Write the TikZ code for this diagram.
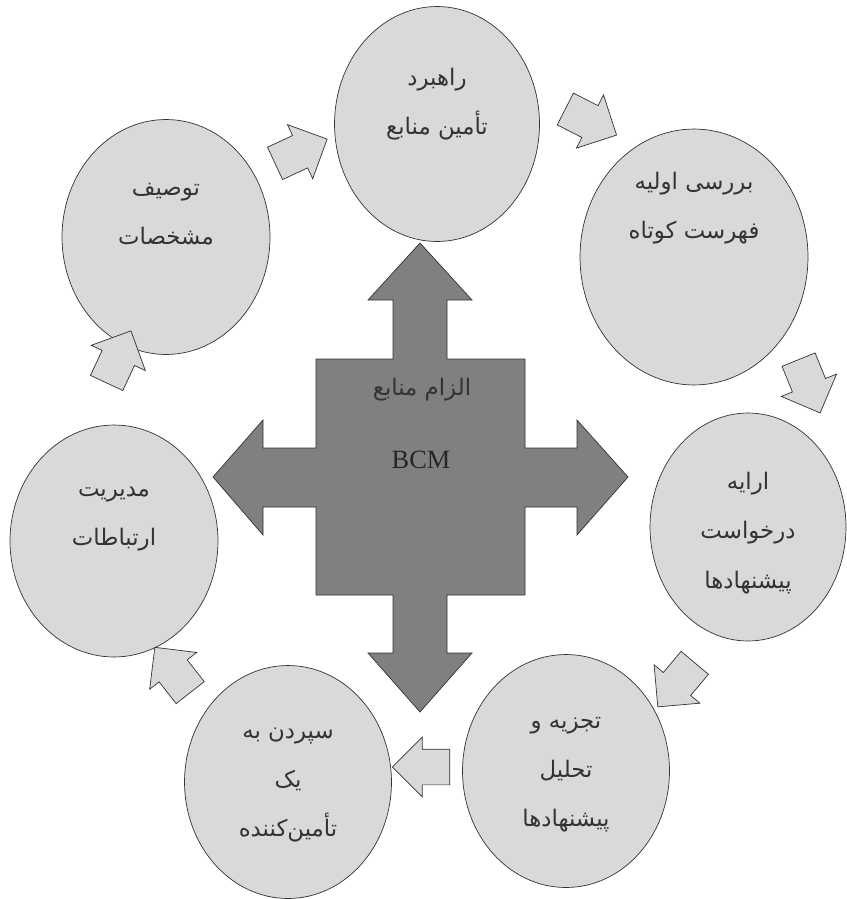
\documentclass[tikz,border=0pt]{standalone}
\usepackage{fontspec}
\setmainfont{Liberation Serif}
\newfontfamily\arabicfont[Script=Arabic]{DejaVu Sans}
\TeXXeTstate=1
\usetikzlibrary{shapes.geometric,shapes.arrows}

\tikzset{
  bubble/.style={ellipse, draw=black!80, fill=gray!30, inner sep=0pt},
  bubbletext/.style={font=\arabicfont\fontsize{13}{28}\selectfont, text=black!80, align=center},
  flow/.style={single arrow, draw=black!80, fill=gray!30, inner xsep=0pt, inner ysep=0.35cm,
    minimum height=1.15cm, single arrow head extend=0.24cm},
  hub/.style={draw=black!80, fill=gray}
}

\begin{document}
\begin{tikzpicture}[x=0.02cm,y=-0.02cm]
\useasboundingbox (0,0) rectangle (846,899);

% central arrow
\draw[hub] (420,243) -- (472,300) -- (447,300) -- (447,359) -- (525,359) -- (525,448)
  -- (577,448) -- (577,420) -- (628,477) -- (577,535) -- (577,507) -- (525,507)
  -- (525,595) -- (447,595) -- (447,653) -- (472,653) -- (420,712) -- (368,653)
  -- (393,653) -- (393,595) -- (316,595) -- (316,507) -- (263,507) -- (263,535)
  -- (213,477) -- (263,420) -- (263,448) -- (316,448) -- (316,359) -- (393,359)
  -- (393,300) -- (368,300) -- cycle;
\node[bubbletext] (hubtop) at (422,390) {\beginR الزام منابع\endR};
\node[font=\fontsize{15}{18}\selectfont, text=black!85] (hubbcm) at (421,460) {BCM};

% ellipses
\node[bubble, minimum width=4.1cm, minimum height=4.7cm] (rahbord) at (437,124) {};
\node[bubble, minimum width=4.56cm, minimum height=5.12cm] (barresi) at (694,257) {};
\node[bubble, minimum width=3.92cm, minimum height=4.56cm] (eraee) at (748,527) {};
\node[bubble, minimum width=4.14cm, minimum height=4.66cm] (tajzie) at (566,771) {};
\node[bubble, minimum width=4.14cm, minimum height=4.66cm] (sepordan) at (288,782) {};
\node[bubble, minimum width=4.16cm, minimum height=4.64cm] (modiriat) at (114,541) {};
\node[bubble, minimum width=4.16cm, minimum height=4.7cm] (tosif) at (166,237) {};

\node[bubbletext] (rahbordtext) at (437,104) {\beginR راهبرد\endR\\ \beginR تأمین منابع\endR};
\node[bubbletext] (barresitext) at (694,208) {\beginR بررسی اولیه\endR\\ \beginR فهرست کوتاه\endR};
\node[bubbletext] (eraeetext) at (748,533) {\beginR ارایه\endR\\ \beginR درخواست\endR\\ \beginR پیشنهادها\endR};
\node[bubbletext] (tajzietext) at (566,775) {\beginR تجزیه و\endR\\ \beginR تحلیل\endR\\ \beginR پیشنهادها\endR};
\node[bubbletext] (sepordantext) at (288,785) {\beginR سپردن به\endR\\ \beginR یک\endR\\ \beginR تأمین‌کننده\endR};
\node[bubbletext] (modiriattext) at (114,519) {\beginR مدیریت\endR\\ \beginR ارتباطات\endR};
\node[bubbletext] (tosiftext) at (166,214) {\beginR توصیف\endR\\ \beginR مشخصات\endR};

% small arrows
\node[flow, rotate=25] (tosif-rahbord) at (293,155) {};
\node[flow, rotate=-27] (rahbord-barresi) at (583,118) {};
\node[flow, rotate=-68] (barresi-eraee) at (806,378) {};
\node[flow, rotate=-130] (eraee-tajzie) at (682,678) {};
\node[flow, rotate=180] (tajzie-sepordan) at (430,767) {};
\node[flow, rotate=128] (sepordan-modiriat) at (178,677) {};
\node[flow, rotate=65] (modiriat-tosif) at (115,365) {};
\end{tikzpicture}
\end{document}
